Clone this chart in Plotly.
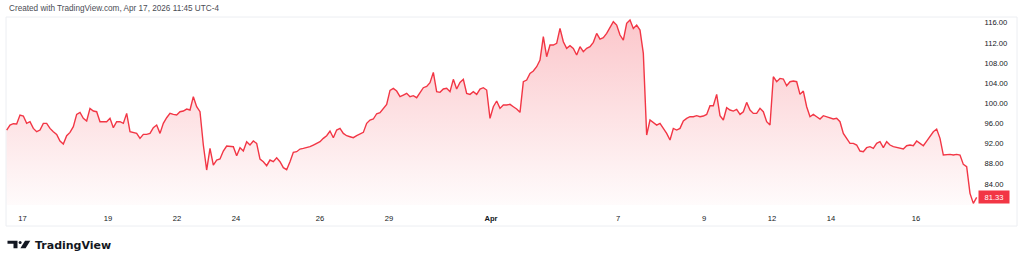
import plotly.graph_objects as go

# ---- data (price per bar, equally spaced bars) ----
price = [
    94.70, 95.69, 95.96, 95.89, 97.68, 97.48, 96.03, 96.36, 95.03, 94.37,
    94.70, 96.03, 96.03, 95.03, 94.37, 93.84, 92.52, 91.92, 93.58, 94.24,
    95.36, 97.81, 98.21, 97.02, 96.49, 99.00, 98.47, 98.34, 96.36, 96.36,
    96.36, 97.02, 95.17, 96.36, 96.36, 96.03, 98.01, 94.37, 94.24, 94.04,
    93.05, 93.84, 93.84, 94.04, 95.17, 95.69, 94.04, 96.03, 97.15, 98.01,
    97.81, 97.68, 98.34, 98.47, 98.87, 98.67, 101.32, 99.33, 98.34, 91.73,
    86.77, 91.06, 87.76, 88.75, 88.95, 90.54, 91.53, 91.40, 91.40, 89.61,
    91.20, 90.54,
    92.39, 91.73, 92.52, 92.06, 88.95, 88.42, 87.63, 88.75, 88.42, 89.21,
    88.42, 87.23, 86.83, 88.42, 90.27, 90.40, 90.93, 91.06, 91.20, 91.40,
    91.73, 92.06, 92.39, 93.05, 93.58, 94.50, 93.18, 94.70, 95.03, 94.04,
    93.58, 93.38, 93.18, 93.58, 93.97, 94.24, 96.03, 96.69, 96.89, 97.94,
    98.14, 99.00, 99.80, 102.57, 102.97, 102.44, 101.32, 101.65, 101.98, 101.32,
    101.52, 101.12, 102.18, 103.10, 103.37, 104.09, 106.14, 102.31, 102.18, 102.84,
    102.97, 102.31, 104.76, 102.84, 104.16, 104.76, 101.98, 101.78, 102.31, 101.78,
    102.84, 103.10,
    102.64, 97.02, 99.33, 100.46, 99.00, 99.66, 99.66, 99.80, 99.33, 98.87,
    98.21, 104.29, 104.62, 105.95, 106.41, 107.27, 108.59, 113.22, 109.25, 111.57,
    111.57, 111.90, 114.87, 112.23, 110.91, 111.44, 110.91, 109.58, 111.24, 110.24,
    110.91, 111.24, 112.10, 113.88, 112.76, 113.02, 113.88, 115.01, 116.20, 115.54,
    113.55, 112.56, 115.87, 116.53, 114.87, 115.54, 114.54, 109.91, 93.71, 96.69,
    96.22, 95.69, 96.03, 95.03, 94.04, 92.72, 95.03, 94.70, 95.03, 96.49,
    97.02, 97.35, 97.35, 97.55, 97.35, 97.48, 97.81, 99.53, 99.53, 101.78,
    97.55, 96.69,
    99.13, 98.67, 98.47, 98.80, 97.81, 98.34, 100.19, 98.67, 98.01, 98.01,
    99.00, 98.34, 96.36, 95.69, 105.28, 104.29, 104.95, 104.82, 103.50, 104.29,
    104.42, 104.29, 101.78, 102.44, 99.33, 97.35, 97.81, 97.35, 96.89, 97.55,
    97.35, 97.02, 96.89, 97.02, 96.36, 94.04, 93.05, 92.06, 92.06, 91.73,
    90.54, 90.40, 91.20, 91.40, 91.06, 92.06, 92.39, 91.20, 92.39, 91.73,
    91.40, 91.20, 91.06, 90.93, 91.59, 91.73, 91.59, 92.52, 92.06, 91.59,
    92.52, 93.58, 94.37, 94.90, 93.05, 89.74, 89.87, 89.87, 89.74, 89.87,
    89.74, 87.89, 87.43, 82.14, 80.15, 81.33,
]
bars = list(range(len(price)))

# day labels on the time scale and the bar index where each day starts
day_labels = ["17", "19", "22", "24", "26", "29", "<b>Apr</b>", "7", "9", "12", "14", "16"]
day_start_bar = [4.75, 30.4, 51.1, 68.8, 94.0, 114.7, 145.3, 183.4, 209.2, 229.6, 247.3, 272.8]

price_ticks = [84, 88, 92, 96, 100, 104, 108, 112, 116]
last_price = price[-1]

header_text = "Created with TradingView.com, Apr 17, 2026 11:45 UTC-4"
brand_text = "TradingView"

# ---- styling / layout ----
RED = "#f23645"
W, H = 1023, 265
ML, MR, MT, MB = 6, 45, 17, 60
PW, PH = W - ML - MR, H - MT - MB
y_lo, y_hi = 79.83, 117.13
x_lo, x_hi = -0.2, 291.4


def px2paper_x(px):
    return (px - ML) / PW


def px2paper_y(py):
    return (H - MB - py) / PH


fig = go.Figure()
fig.add_trace(go.Scatter(
    x=bars, y=price, mode="lines",
    line=dict(color=RED, width=1.4),
    fill="tozeroy",
    fillgradient=dict(
        type="vertical",
        colorscale=[[0, "rgba(242,54,69,0.02)"], [1, "rgba(242,54,69,0.28)"]],
        start=y_lo, stop=max(price),
    ),
    hoverinfo="skip",
))

small_font = dict(family="Liberation Sans, Arial, sans-serif", size=7.6, color="#131722")

# TradingView-like logo glyph built from simple shapes (pixel -> paper)
def path_from_px(points):
    s = ""
    for k, (px, py) in enumerate(points):
        s += ("M" if k == 0 else "L") + f"{px2paper_x(px):.5f},{px2paper_y(py):.5f} "
    return s + "Z"

logo_color = "#131722"
shapes = [
    # panel border
    dict(type="rect", xref="paper", yref="paper",
         x0=px2paper_x(6), x1=px2paper_x(1017), y0=px2paper_y(226), y1=px2paper_y(17),
         line=dict(color="#eceef2", width=1), fillcolor="rgba(0,0,0,0)", layer="below"),
    dict(type="path", xref="paper", yref="paper", line=dict(width=0), fillcolor=logo_color,
         path=path_from_px([(7.5, 240.8), (17.5, 240.8), (17.5, 248.2), (13.5, 248.2),
                            (13.5, 243.8), (7.5, 243.8)])),
    dict(type="circle", xref="paper", yref="paper", line=dict(width=0), fillcolor=logo_color,
         x0=px2paper_x(18.6), x1=px2paper_x(21.6), y0=px2paper_y(244.0), y1=px2paper_y(241.0)),
    dict(type="path", xref="paper", yref="paper", line=dict(width=0), fillcolor=logo_color,
         path=path_from_px([(25.0, 240.8), (30.3, 240.8), (25.6, 248.2), (20.4, 248.2)])),
]

annotations = [
    dict(text=header_text, xref="paper", yref="paper", x=px2paper_x(7), y=px2paper_y(9),
         xanchor="left", yanchor="middle", showarrow=False,
         font=dict(family="Liberation Sans, Arial, sans-serif", size=8.2, color="#4a4d55")),
    dict(text=brand_text, xref="paper", yref="paper", x=px2paper_x(32.5), y=px2paper_y(245.5),
         xanchor="left", yanchor="middle", showarrow=False,
         font=dict(family="DejaVu Sans", size=11, color="#131722", weight="bold")),
    dict(text=f"{last_price:.2f}", xref="paper", yref="y", x=1.0, y=last_price,
         xanchor="left", yanchor="middle", showarrow=False, bgcolor=RED,
         width=30, height=12, borderpad=0,
         font=dict(family="Liberation Sans, Arial, sans-serif", size=7.6, color="white")),
]

fig.update_layout(
    width=W, height=H, autosize=False,
    margin=dict(l=ML, r=MR, t=MT, b=MB, pad=0),
    paper_bgcolor="white", plot_bgcolor="white",
    showlegend=False,
    shapes=shapes, annotations=annotations,
    xaxis=dict(range=[x_lo, x_hi], tickmode="array", tickvals=day_start_bar, ticktext=day_labels,
               showgrid=False, zeroline=False, showline=False, ticks="outside", ticklen=6,
               tickcolor="rgba(0,0,0,0)", tickfont=small_font, fixedrange=True),
    yaxis=dict(range=[y_lo, y_hi], side="right", tickmode="array", tickvals=price_ticks,
               tickformat=".2f", showgrid=False, zeroline=False, showline=False,
               ticks="outside", ticklen=4, tickcolor="rgba(0,0,0,0)",
               tickfont=small_font, fixedrange=True),
)

fig.write_html("out.html", config={"displayModeBar": False})
